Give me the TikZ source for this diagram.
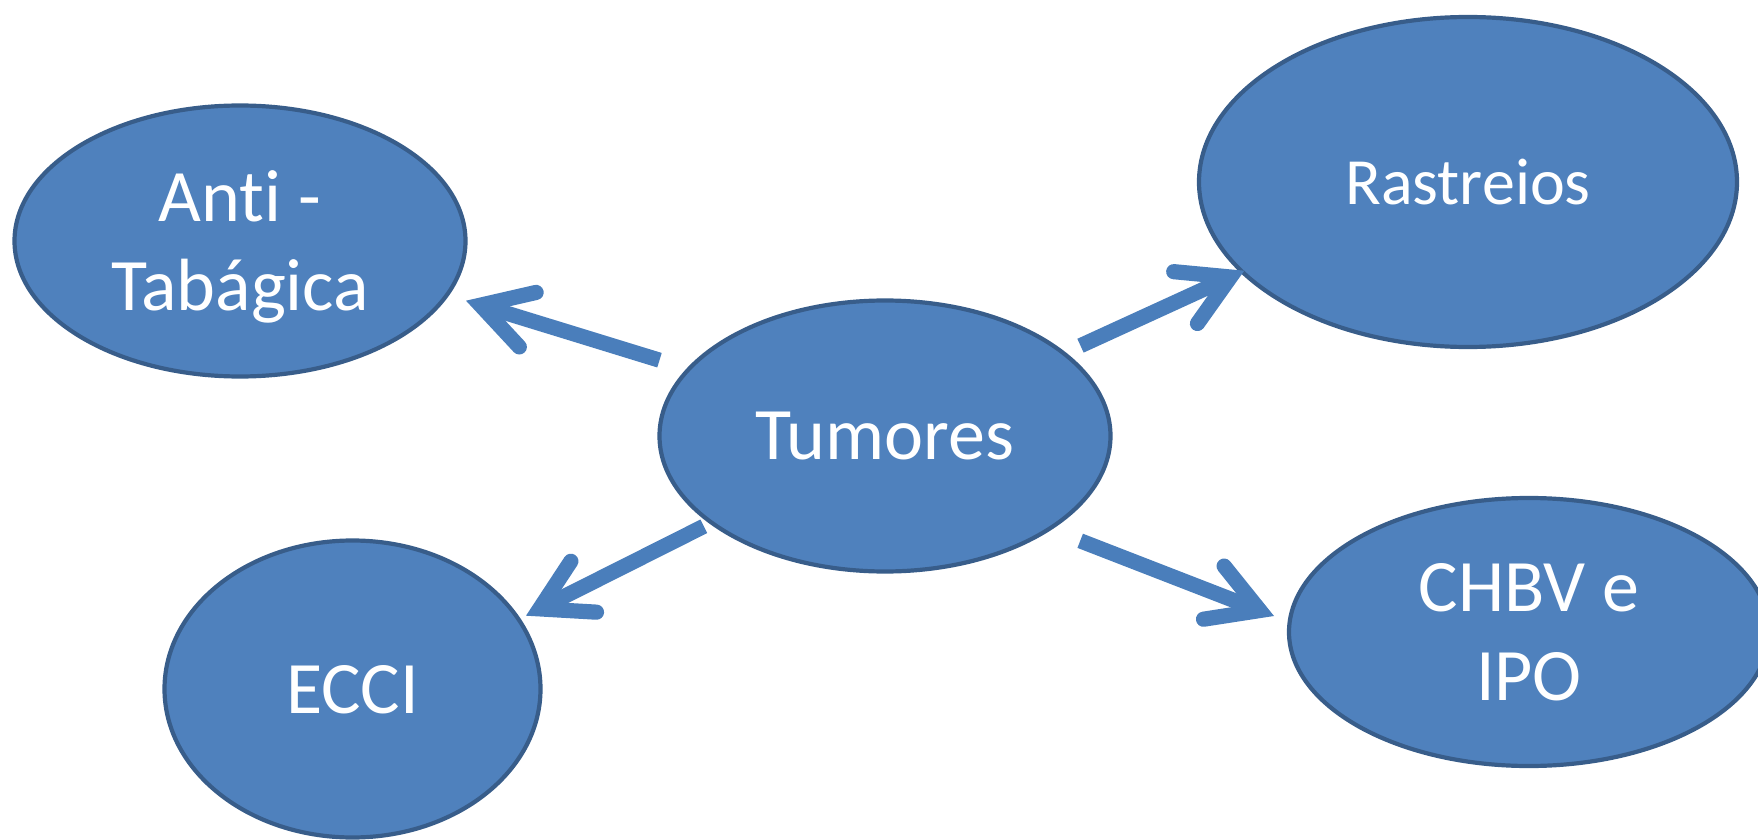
\documentclass[tikz,border=0pt]{standalone}
\usepackage{fontspec}
\setmainfont{Carlito}[Ligatures=CommonOff]
\usetikzlibrary{shapes.geometric,calc}
\definecolor{ellfill}{HTML}{4F81BD}
\definecolor{elldraw}{HTML}{385D8A}
\definecolor{arrowc}{HTML}{4A7EBB}
\begin{document}
\begin{tikzpicture}[x=0.5pt,y=-0.5pt,
  bubble/.style={ellipse, fill=ellfill, draw=elldraw, line width=2.1pt, inner sep=0pt,
    text=white, align=center, text depth=0pt,
    font=\fontsize{37pt}{44.5pt}\selectfont},
  shaft/.style={draw=arrowc, line width=7.6pt, line cap=butt},
  chevron/.style={draw=arrowc, line width=7.6pt, line cap=round, line join=miter}]
\useasboundingbox (0,0) rectangle (1758,840);

\node[bubble, minimum width=225.5pt, minimum height=135.5pt] (anti) at (240,241) {Anti -\\Tabágica};
\node[bubble, minimum width=225.5pt, minimum height=135.5pt] (tum) at (885,436) {Tumores};
\node[bubble, minimum width=269pt, minimum height=165pt,
      font=\fontsize{33pt}{40pt}\selectfont] (ras) at (1468,182) {Rastreios};
\node[bubble, minimum width=188pt, minimum height=148.5pt] (ecci) at (352.5,689) {ECCI};
\node[bubble, minimum width=240pt, minimum height=134pt] (chbv) at (1529,632) {CHBV e\\IPO};

% arrow ends (tail near Tumores, tip near target)
\coordinate (t1) at (659.5,360.2);  \coordinate (h1) at (466,300.7);
\coordinate (t2) at (1080.5,345.7); \coordinate (h2) at (1244.3,270.7);
\coordinate (t3) at (703.8,526.3);  \coordinate (h3) at (526,615.7);
\coordinate (t4) at (1080.2,540.8); \coordinate (h4) at (1274,616);

\foreach \i in {1,2,3,4} {
  \coordinate (v\i) at ($(h\i)!7.6pt!(t\i)$);
  \draw[shaft] (t\i) -- (v\i);
  \draw[chevron] ($(v\i)!28.5pt!30:(t\i)$) -- (v\i) -- ($(v\i)!28.5pt!-30:(t\i)$);
}
\end{tikzpicture}
\end{document}
